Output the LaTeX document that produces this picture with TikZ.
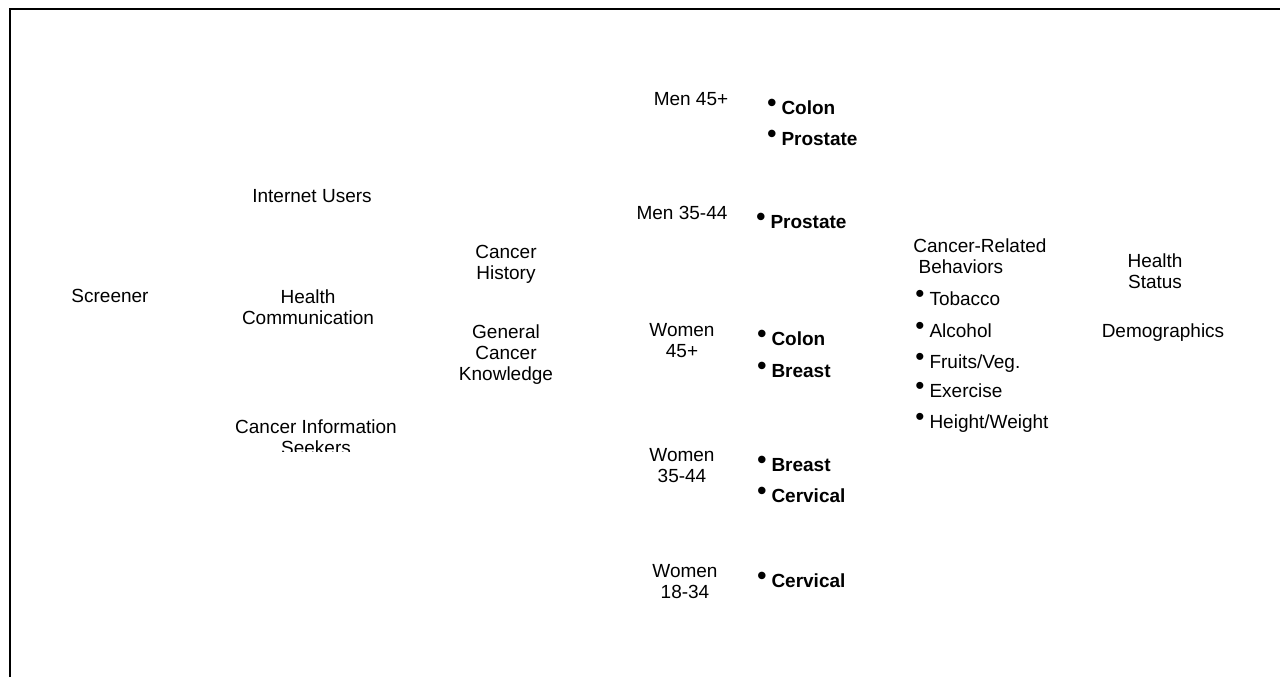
\documentclass[tikz,border=0pt]{standalone}
\usepackage{fontspec}
\setmainfont{Liberation Sans}
\usetikzlibrary{positioning}

\newcommand{\bul}{\raisebox{1.2pt}{\fontsize{13}{13}\selectfont\textbullet}\hspace{2.5pt}}

\begin{document}
\begin{tikzpicture}[x=0.5pt,y=-0.5pt,
  lbl/.style={font=\fontsize{9.5}{10.5}\selectfont,align=center,inner sep=0pt,anchor=base},
  itm/.style={font=\fontsize{9.5}{10.5}\selectfont\bfseries,inner sep=0pt,anchor=base west},
  beh/.style={font=\fontsize{9.5}{10.5}\selectfont,inner sep=0pt,anchor=base west}]
  \useasboundingbox (0,0) rectangle (1280,677);
  %% frame (only top and left edges show)
  \draw[line width=1pt] (10,677) -- (10,9) -- (1280,9);

  %% left columns
  \node[lbl] (SCR) at (110,302) {Screener};
  \node[lbl] (IU)  at (312,202) {Internet Users};
  \node[lbl] (HC)  at (308,324) {Health\\Communication};
  \begin{scope}
    \clip (200,400) rectangle (450,451);
    \node[lbl] (CIS) at (316,454) {Cancer Information\\Seekers};
  \end{scope}
  \node[lbl] (CH)  at (506,279) {Cancer\\History};
  \node[lbl] (GCK) at (506,380) {General\\Cancer\\Knowledge};

  %% groups by sex and age
  \foreach \n/\x/\y/\txt in {M45/691/105/{Men 45+}, M35/682/219/{Men 35-44},
      W45/682/357/{Women\\45+}, W35/682/482/{Women\\35-44}, W18/685/598/{Women\\18-34}}
    \node[lbl] (\n) at (\x,\y) {\txt};

  %% screenings for each group
  \foreach \n/\x/\y/\txt in {M45a/767/114/Colon, M45b/767/145/Prostate,
      M35a/756/228/Prostate, W45a/757/345/Colon, W45b/757/377/Breast,
      W35a/757/471/Breast, W35b/757/502/Cervical, W18a/757/587/Cervical}
    \node[itm] (\n) at (\x,\y) {\bul\txt};

  %% behaviours
  \node[lbl,anchor=base west,align=left] (CRB) at (913,273) {Cancer-Related\\\ Behaviors};
  \foreach \n/\y/\txt in {TOB/305/Tobacco, ALC/337/Alcohol, FRU/368/{Fruits/Veg.}, EXE/397/Exercise}
    \node[beh] (\n) at (915,\y) {\bul\txt};
  \begin{scope}
    \clip (900,405) rectangle (1060,432);
    \node[beh] (HW) at (915,428) {\bul Height/Weight};
  \end{scope}

  %% right column
  \node[lbl] (HS)  at (1155,288) {Health\\Status};
  \node[lbl] (DEM) at (1163,337) {Demographics};
\end{tikzpicture}
\end{document}
